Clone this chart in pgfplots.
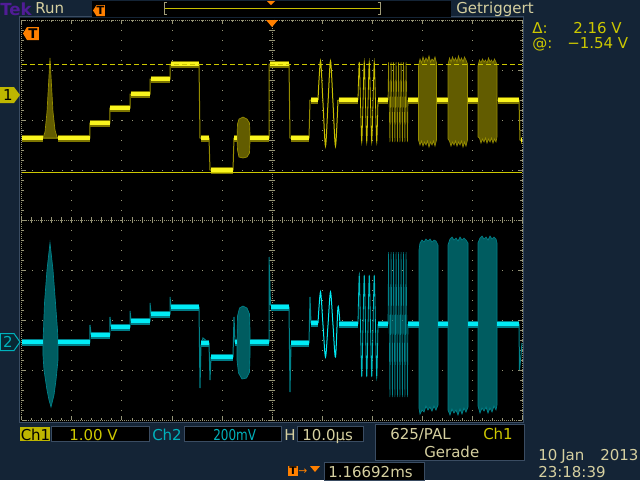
\documentclass[border=0pt]{standalone}
\usepackage{pgfplots}
\pgfplotsset{compat=1.18}
\usepackage{fontspec}
\setmainfont{DejaVu Sans}
\definecolor{bg}{RGB}{20,36,54}
\definecolor{beige}{RGB}{214,208,160}
\definecolor{tekpurple}{RGB}{80,28,150}
\definecolor{yel}{RGB}{250,245,30}
\definecolor{yelhalo}{RGB}{125,117,0}
\definecolor{yeldim}{RGB}{150,140,0}
\definecolor{yelsin}{RGB}{200,190,0}
\definecolor{olive}{RGB}{98,92,0}
\definecolor{oliveedge}{RGB}{150,140,0}
\definecolor{cyanb}{RGB}{0,235,245}
\definecolor{cyanhalo}{RGB}{0,125,135}
\definecolor{cyandim}{RGB}{0,130,138}
\definecolor{tealf}{RGB}{0,92,96}
\definecolor{gridc}{RGB}{150,148,118}
\definecolor{orng}{RGB}{255,128,0}
\definecolor{chy}{RGB}{205,200,0}
\definecolor{chyfill}{RGB}{190,182,0}
\definecolor{chc}{RGB}{0,178,188}
\definecolor{framec}{RGB}{58,76,98}
\definecolor{brk}{RGB}{160,156,120}
\newcommand{\F}{\fontsize{11.25pt}{13pt}\selectfont}
\begin{document}
\begin{tikzpicture}
\useasboundingbox (0,0) rectangle (480pt,360pt);
\fill[bg] (0,0) rectangle (480pt,360pt);
\fill[black] (15pt,43.5pt) rectangle (392.25pt,346.875pt);
\draw[framec, line width=0.75pt] (14.6pt,43.1pt) rectangle (392.6pt,347.3pt);
\begin{axis}[
  at={(16.5pt,45pt)}, anchor=south west,
  scale only axis, width=375pt, height=300pt,
  xmin=22, xmax=522, ymin=20, ymax=420, y dir=reverse,
  clip=false,
  xtick={22,72,...,522}, ytick={20,70,...,420},
  xticklabels={}, yticklabels={},
  minor x tick num=4, minor y tick num=4,
  tick align=inside, tick pos=both,
  major tick length=3pt, minor tick length=1.5pt,
  tick style={gridc, line width=0.75pt},
  grid=major,
  major grid style={gridc, line width=0.75pt, dash pattern=on 0.75pt off 6.75pt},
  axis line style={gridc, line width=0.75pt, dash pattern=on 0.75pt off 0.75pt},
  extra x ticks={272}, extra y ticks={220},
  extra x tick labels={}, extra y tick labels={},
  extra tick style={grid=major, major grid style={gridc, line width=0.75pt, dash pattern=on 0.75pt off 0.75pt}, major tick length=0pt},
  unbounded coords=jump,
]
% centre cross ticks
\draw[gridc, line width=4.5pt, dash pattern=on 0.75pt off 6.75pt] (axis cs:272,19.5) -- (axis cs:272,420);
\draw[gridc, line width=4.5pt, dash pattern=on 0.75pt off 6.75pt] (axis cs:21.5,220) -- (axis cs:522,220);

% ================= CH1 (yellow) =================
\addplot[yeldim, line width=0.75pt] coordinates {
(22,138)(90,138)(90,123)(110,123)(110,108)(130,108)(130,94)(150,94)(150,79)(170,79)(170,64)(199,64)(200,138)(209,138)(210,170)(233,170)(234,138)(269,138)(269,64)(289,64)(290,138)(309,138)(310,100)(318,100)
(318,nan)(338,100)(358,100)(358,nan)(378,100)(388,100)(388,nan)(408,100)(418,100)(418,nan)(437,100)(448,100)(448,nan)(468,100)(478,100)(478,nan)(497,100)(519,100)(520,140)(522,140)};
% 20T pulse
\addplot[fill=olive, draw=oliveedge, line width=0.5pt] coordinates {
(43,138)(45,132)(47,112)(48.5,85)(50,58)(51.5,85)(53,112)(55,130)(57,137)(59,138)} -- cycle;
% chroma block
\addplot[fill=olive, draw=oliveedge, line width=0.5pt] coordinates {
(237,138)(237.5,124)(239,119)(243,117)(247,119)(249.5,123)(250,134)(250,142)(249.5,153)(247,157)(243,158)(239,157)(237.5,150)} -- cycle;
% multiburst 0.5 MHz
\addplot[yelsin, line width=0.75pt, smooth] coordinates {
(318,100)(320.5,61)(323,103)(325.5,146)(328,103)(330.5,61)(333,103)(335.5,146)(338,100)};
% 1 MHz
\addplot[yelsin, line width=0.6pt, smooth] coordinates {
(358,100)(359.25,62)(360.5,103)(361.75,142)(363,103)(364.25,62)(365.5,103)(366.75,142)(368,103)(369.25,62)(370.5,103)(371.75,142)(373,103)(374.25,62)(375.5,103)(376.75,142)(378,100)};
% 2 MHz
\addplot[yeldim, line width=0.5pt] coordinates {
(388,100)(388.6,62)(389.9,142)(391.1,62)(392.4,142)(393.6,62)(394.9,142)(396.1,62)(397.4,142)(398.6,62)(399.9,142)(401.1,62)(402.4,142)(403.6,62)(404.9,142)(406.1,62)(407.4,142)(408,100)};
% 4 / 4.8 / 5.8 MHz
\addplot[fill=olive, draw=oliveedge, line width=0.5pt] coordinates {
(418.5,66)(420,59)(421.5,63)(423,57)(424.5,62)(426,58)(427.5,61)(429,56)(430.5,62)(432,59)(433.5,61)(435,57)(436.5,63)
(436.5,140)(435,146)(433.5,141)(432,145)(430.5,142)(429,147)(427.5,141)(426,145)(424.5,142)(423,146)(421.5,141)(420,145)(418.5,140)} -- cycle;
\addplot[fill=olive, draw=oliveedge, line width=0.5pt] coordinates {
(448,65)(449.5,58)(451,62)(452.5,57)(454,61)(455.5,58)(457,62)(458.5,56)(460,61)(461.5,58)(463,62)(464.5,57)(466,60)(467.5,64)
(467.5,140)(466,146)(464.5,142)(463,147)(461.5,141)(460,145)(458.5,142)(457,146)(455.5,141)(454,145)(452.5,142)(451,146)(449.5,141)(448,139)} -- cycle;
\addplot[fill=olive, draw=oliveedge, line width=0.5pt] coordinates {
(478,66)(479.5,60)(481,63)(482.5,59)(484,62)(485.5,60)(487,63)(488.5,58)(490,62)(491.5,60)(493,63)(494.5,59)(496,62)(497,66)
(497,137)(496,142)(494.5,139)(493,143)(491.5,138)(490,142)(488.5,139)(487,143)(485.5,138)(484,142)(482.5,139)(481,143)(479.5,138)(478,137)} -- cycle;
% bright levels
\addplot[yelhalo, line width=5.25pt] coordinates {
(22,138)(43,138)(43,nan)(58,138)(90,138)(90,nan)(90.5,123)(110,123)(110,nan)(110.5,108)(130,108)(130,nan)(130.5,94)(150,94)(150,nan)(150.5,79)(170,79)(170,nan)(170.5,64)(199,64)(199,nan)(201,138)(209,138)(209,nan)(211,170)(233,170)(233,nan)(234,138)(237,138)(237,nan)(250,138)(268.5,138)(268.5,nan)(270,64)(289,64)(289,nan)(291,138)(309,138)(309,nan)(311,100)(318,100)(318,nan)(338.5,100)(358,100)(358,nan)(378,100)(388,100)(388,nan)(408,100)(418,100)(418,nan)(437,100)(448,100)(448,nan)(468,100)(478,100)(478,nan)(497.5,100)(519,100)(519,nan)(520.5,140)(522,140)};
\addplot[yel, line width=2.6pt] coordinates {
(22,138)(43,138)(43,nan)(58,138)(90,138)(90,nan)(90.5,123)(110,123)(110,nan)(110.5,108)(130,108)(130,nan)(130.5,94)(150,94)(150,nan)(150.5,79)(170,79)(170,nan)(170.5,64)(199,64)(199,nan)(201,138)(209,138)(209,nan)(211,170)(233,170)(233,nan)(234,138)(237,138)(237,nan)(250,138)(268.5,138)(268.5,nan)(270,64)(289,64)(289,nan)(291,138)(309,138)(309,nan)(311,100)(318,100)(318,nan)(338.5,100)(358,100)(358,nan)(378,100)(388,100)(388,nan)(408,100)(418,100)(418,nan)(437,100)(448,100)(448,nan)(468,100)(478,100)(478,nan)(497.5,100)(519,100)(519,nan)(520.5,140)(522,140)};

% ================= CH2 (cyan) =================
\addplot[cyandim, line width=0.75pt] coordinates {
(22,342)(90,342)(90,325)(91,334)(110,335)(110,317)(111,326)(130,327)(130,311)(131,320)(150,321)(150,303)(151,313)(170,314)(170,297)(171,306)(199,307)(200,388)(201,345)(203,338)(209,343)(210,380)(211,357)(233,357)(234,317)(235,342)(237,342)(250,342)(269,342)(269,257)(270.5,305)(289,307)(290,392)(291,345)(309,343)(310,297)(311,323)(318,323)
(318,nan)(340,324)(358,324)(358,nan)(378,324)(388,324)(388,nan)(408,324)(419,324)(419,nan)(438,324)(448,324)(448,nan)(468,324)(478,324)(478,nan)(497,324)(519,324)(519.5,370)(521,355)(522,343)};
% spindle
\addplot[fill=tealf, draw=cyandim, line width=0.5pt] coordinates {
(43,342)(43.5,330)(44.5,303)(47,270)(50,243)(53,270)(55.5,303)(57.5,330)(58,342)(58,360)(56,380)(54,395)(51,407)(49,400)(47,390)(44,370)(43,355)} -- cycle;
% chroma block
\addplot[fill=tealf, draw=cyandim, line width=0.5pt] coordinates {
(237,342)(237.5,316)(239.5,308)(243,306)(247,308)(249.5,314)(250,330)(250,355)(249.5,372)(246.5,378)(242,379)(238.5,373)(237,360)} -- cycle;
% multiburst
\addplot[cyanb, line width=0.75pt, smooth] coordinates {
(318,323)(320.5,292)(323,325)(325.5,357)(328,325)(330.5,292)(333,325)(335.5,357)(338,307)(340,324)};
\addplot[cyanb!80!black, line width=0.6pt, smooth] coordinates {
(358,324)(359.25,275)(360.5,326)(361.75,377)(363,326)(364.25,275)(365.5,326)(366.75,377)(368,326)(369.25,275)(370.5,326)(371.75,377)(373,326)(374.25,275)(375.5,326)(376.75,377)(378,324)};
\addplot[cyandim, line width=0.5pt] coordinates {
(388,324)(388.6,252)(389.9,397)(391.1,252)(392.4,397)(393.6,252)(394.9,397)(396.1,252)(397.4,397)(398.6,252)(399.9,397)(401.1,252)(402.4,397)(403.6,252)(404.9,397)(406.1,252)(407.4,397)(408,324)};
\addplot[fill=tealf, draw=cyandim, line width=0.5pt] coordinates {
(419,250)(420,243)(422,240)(424,242)(426,239)(428,241)(430,239)(432,242)(434,240)(436,241)(438,245)
(438,405)(436,410)(434,406)(432,411)(430,407)(428,410)(426,406)(424,412)(422,410)(420,414)(419,408)} -- cycle;
\addplot[fill=tealf, draw=cyandim, line width=0.5pt] coordinates {
(448,245)(450,239)(452,237)(454,240)(456,238)(458,241)(460,237)(462,240)(464,238)(466,240)(468,243)
(468,407)(466,412)(464,408)(462,414)(460,409)(458,415)(456,410)(454,413)(452,409)(450,415)(448,410)} -- cycle;
\addplot[fill=tealf, draw=cyandim, line width=0.5pt] coordinates {
(478,243)(480,238)(482,236)(484,239)(486,237)(488,240)(490,236)(492,239)(494,237)(496,239)(497,243)
(497,405)(496,410)(494,406)(492,412)(490,408)(488,413)(486,407)(484,411)(482,408)(480,413)(478,406)} -- cycle;
% bright levels
\addplot[cyanhalo, line width=5.25pt] coordinates {
(22,342)(43,342)(43,nan)(58,342)(90,342)(90,nan)(91,335)(110,335)(110,nan)(111,327)(130,327)(130,nan)(131,321)(150,321)(150,nan)(151,314)(170,314)(170,nan)(171,307)(199,307)(199,nan)(201,343)(209,343)(209,nan)(211,357)(233,357)(233,nan)(234.5,342)(237,342)(237,nan)(250,342)(268.5,342)(268.5,nan)(271,307)(289,307)(289,nan)(291,343)(309,343)(309,nan)(311,323)(318,323)(318,nan)(339,324)(358,324)(358,nan)(378,324)(388,324)(388,nan)(408,324)(418.5,324)(418.5,nan)(438,324)(448,324)(448,nan)(468,324)(478,324)(478,nan)(497,324)(519,324)};
\addplot[cyanb, line width=2.6pt] coordinates {
(22,342)(43,342)(43,nan)(58,342)(90,342)(90,nan)(91,335)(110,335)(110,nan)(111,327)(130,327)(130,nan)(131,321)(150,321)(150,nan)(151,314)(170,314)(170,nan)(171,307)(199,307)(199,nan)(201,343)(209,343)(209,nan)(211,357)(233,357)(233,nan)(234.5,342)(237,342)(237,nan)(250,342)(268.5,342)(268.5,nan)(271,307)(289,307)(289,nan)(291,343)(309,343)(309,nan)(311,323)(318,323)(318,nan)(339,324)(358,324)(358,nan)(378,324)(388,324)(388,nan)(408,324)(418.5,324)(418.5,nan)(438,324)(448,324)(448,nan)(468,324)(478,324)(478,nan)(497,324)(519,324)};

% cursors
\addplot[chy, line width=0.75pt, dash pattern=on 3.75pt off 2.25pt] coordinates {(22,64)(522,64)};
\addplot[chy, line width=0.75pt] coordinates {(22,172)(522,172)};

% ================= decorations =================
% trigger markers
\fill[orng] (axis cs:266,20) -- (axis cs:278,20) -- (axis cs:272,27) -- cycle;
\fill[orng] (axis cs:23,33.5) -- (axis cs:27,27) -- (axis cs:39,27) -- (axis cs:39,40) -- (axis cs:27,40) -- cycle;
\node[text=black, inner sep=0pt, font=\fontsize{10pt}{10pt}\selectfont\bfseries] at (axis cs:33,33.5) {T};
% channel markers
\fill[chyfill] (axis cs:0,87) -- (axis cs:14,87) -- (axis cs:20,95) -- (axis cs:14,103) -- (axis cs:0,103) -- cycle;
\node[text=black, inner sep=0pt, font=\F] at (axis cs:8,95) {1};
\draw[chc, fill={rgb,255:red,8;green,40;blue,52}, line width=0.75pt] (axis cs:0.5,333.5) -- (axis cs:14,333.5) -- (axis cs:20,342) -- (axis cs:14,350.5) -- (axis cs:0.5,350.5) -- cycle;
\node[text=chc, inner sep=0pt, font=\F] at (axis cs:8,342) {2};

% header
\node[anchor=base west, inner sep=0pt, text=tekpurple, font=\fontsize{12.5pt}{13pt}\selectfont\bfseries] at (axis cs:0,15) {Tek};
\node[anchor=base west, inner sep=0pt, text=beige, font=\F] at (axis cs:35,13.5) {Run};
\fill[black] (axis cs:92,1) rectangle (axis cs:451,16.5);
\draw[brk, line width=0.75pt] (axis cs:167,2.5) -- (axis cs:164.5,2.5) -- (axis cs:164.5,14.5) -- (axis cs:167,14.5);
\draw[brk, line width=0.75pt] (axis cs:377.5,2.5) -- (axis cs:380,2.5) -- (axis cs:380,14.5) -- (axis cs:377.5,14.5);
\draw[yelsin, line width=0.75pt] (axis cs:165,8.5) -- (axis cs:380,8.5);
\fill[orng] (axis cs:267,1) -- (axis cs:275,1) -- (axis cs:271,5) -- cycle;
\fill[orng] (axis cs:93,10.5) -- (axis cs:96.5,5) -- (axis cs:105,5) -- (axis cs:105,16) -- (axis cs:96.5,16) -- cycle;
\node[text=black, inner sep=0pt, font=\fontsize{8.5pt}{9pt}\selectfont\bfseries] at (axis cs:100.5,10.5) {T};
\node[anchor=base west, inner sep=0pt, text=beige, font=\F] at (axis cs:456,13.5) {Getriggert};
% right panel
\node[anchor=base west, inner sep=0pt, text=chy, font=\F] at (axis cs:532,33) {Δ:};
\node[anchor=base west, inner sep=0pt, text=chy, font=\F] at (axis cs:573,33) {2.16 V};
\node[anchor=base west, inner sep=0pt, text=chy, font=\F] at (axis cs:532,48) {@:};
\node[anchor=base west, inner sep=0pt, text=chy, font=\F] at (axis cs:567,48) {−1.54 V};

% bottom
\fill[chyfill] (axis cs:20,426.5) rectangle (axis cs:50,441);
\node[anchor=base west, inner sep=0pt, text=black, font=\F] at (axis cs:20.5,440) {Ch1};
\draw[framec, fill=black, line width=0.75pt] (axis cs:52,426) rectangle (axis cs:149.5,441.5);
\node[anchor=base west, inner sep=0pt, text=chy, font=\F] at (axis cs:69,440) {1.00 V};
\node[anchor=base west, inner sep=0pt, text=chc, font=\F] at (axis cs:152,440) {Ch2};
\draw[framec, fill=black, line width=0.75pt] (axis cs:184,426) rectangle (axis cs:281.5,441.5);
\node[anchor=base west, inner sep=0pt, text=chc, font=\F] at (axis cs:213,440) {\scalebox{0.8}[1]{200mV}};
\node[anchor=base west, inner sep=0pt, text=beige, font=\F] at (axis cs:284,440) {H};
\draw[framec, fill=black, line width=0.75pt] (axis cs:297.5,426) rectangle (axis cs:363.5,441.5);
\node[anchor=base west, inner sep=0pt, text=beige, font=\F] at (axis cs:302,440) {10.0µs};
\draw[framec, fill=black, line width=0.75pt] (axis cs:375,424) rectangle (axis cs:524,460);
\node[anchor=base west, inner sep=0pt, text=beige, font=\F] at (axis cs:390,439) {625/PAL};
\node[anchor=base west, inner sep=0pt, text=chy, font=\F] at (axis cs:483,439) {Ch1};
\node[anchor=base west, inner sep=0pt, text=beige, font=\F] at (axis cs:424,457) {Gerade};
\node[anchor=base west, inner sep=0pt, text=beige, font=\F] at (axis cs:538,460.5) {10};
\node[anchor=base west, inner sep=0pt, text=beige, font=\F] at (axis cs:561,460.5) {Jan};
\node[anchor=base west, inner sep=0pt, text=beige, font=\F] at (axis cs:600,460.5) {2013};
\node[anchor=base west, inner sep=0pt, text=beige, font=\F] at (axis cs:538,477.5) {23:18:39};
\fill[orng] (axis cs:288,466) rectangle (axis cs:298,476);
\node[text=black, inner sep=0pt, font=\fontsize{8pt}{8pt}\selectfont\bfseries] at (axis cs:293,471) {T};
\node[anchor=base west, inner sep=0pt, text=orng, font=\fontsize{8pt}{8pt}\selectfont] at (axis cs:298,474) {→};
\fill[orng] (axis cs:310,466) -- (axis cs:320,466) -- (axis cs:315,472) -- cycle;
\draw[framec, fill=black, line width=0.75pt] (axis cs:324.5,462) rectangle (axis cs:424,480);
\node[anchor=base west, inner sep=0pt, text=beige, font=\F] at (axis cs:328,477) {1.16692ms};
\end{axis}
\end{tikzpicture}
\end{document}
